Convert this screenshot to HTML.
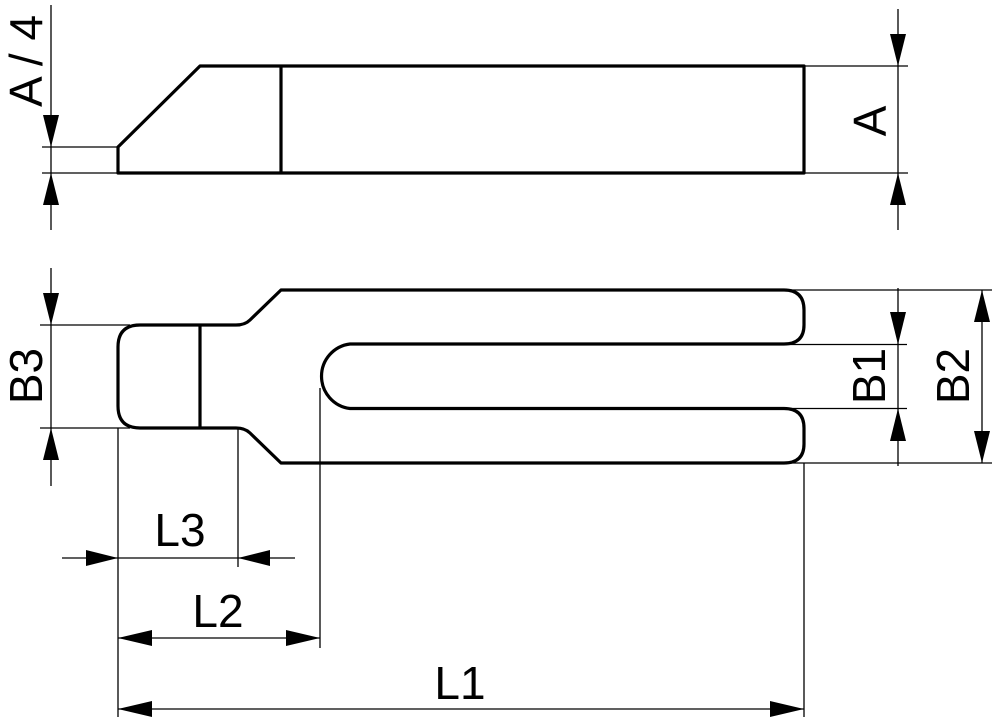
<!DOCTYPE html>
<html><head><meta charset="utf-8"><style>
html,body{margin:0;padding:0;background:#fff;}
svg{display:block;}
text{font-family:"Liberation Sans",sans-serif;font-size:46px;fill:#000;}
</style></head><body>
<svg width="1000" height="723" viewBox="0 0 1000 723" xmlns="http://www.w3.org/2000/svg">
<g fill="none" stroke="#000" stroke-width="3.2" stroke-linejoin="round">
<path d="M118,173 L118,147 L200,66 L804,66 L804,173 Z"/>
<line x1="281" y1="66" x2="281" y2="173"/>
<path d="M281,290 L784,290 Q804,290 804,310 L804,325 Q804,344 784,344 L350,344 A32.5,32.5 0 0 0 350,408.5 L784,408.5 Q804,408.5 804,428 L804,444 Q804,463 784,463 L281,463 L250,433 Q245,428 236,428 L140,428 Q118,428 118,406 L118,347 Q118,325 140,325 L236,325 Q245,325 250,320 Z"/>
<line x1="200" y1="325" x2="200" y2="428"/>
</g>
<g stroke="#000" stroke-width="1.3" fill="none">
<line x1="51" y1="5" x2="51" y2="230"/>
<line x1="42" y1="147" x2="118" y2="147"/>
<line x1="42" y1="173" x2="118" y2="173"/>
<line x1="898" y1="9" x2="898" y2="230"/>
<line x1="804" y1="66" x2="908" y2="66"/>
<line x1="804" y1="173" x2="908" y2="173"/>
<line x1="51" y1="268" x2="51" y2="486"/>
<line x1="40" y1="325" x2="130" y2="325"/>
<line x1="40" y1="428" x2="130" y2="428"/>
<line x1="898" y1="288" x2="898" y2="466"/>
<line x1="790" y1="290" x2="992" y2="290"/>
<line x1="780" y1="344.5" x2="907" y2="344.5"/>
<line x1="780" y1="408.5" x2="907" y2="408.5"/>
<line x1="790" y1="463" x2="992" y2="463"/>
<line x1="982" y1="290" x2="982" y2="463"/>
<line x1="118" y1="428" x2="118" y2="717"/>
<line x1="238" y1="428" x2="238" y2="567"/>
<line x1="320" y1="388" x2="320" y2="648"/>
<line x1="804" y1="463" x2="804" y2="717"/>
<line x1="62" y1="558" x2="295" y2="558"/>
<line x1="118" y1="638" x2="320" y2="638"/>
<line x1="118" y1="709" x2="804" y2="709"/>
</g>
<g fill="#000">
<path d="M51,147 L43,115 L59,115 Z"/>
<path d="M51,173 L43,205 L59,205 Z"/>
<path d="M898,66 L890,34 L906,34 Z"/>
<path d="M898,173 L890,205 L906,205 Z"/>
<path d="M51,325 L43,293 L59,293 Z"/>
<path d="M51,428 L43,460 L59,460 Z"/>
<path d="M898,344.5 L890,312 L906,312 Z"/>
<path d="M898,408.5 L890,441 L906,441 Z"/>
<path d="M982,290 L974,322 L990,322 Z"/>
<path d="M982,463 L974,431 L990,431 Z"/>
<path d="M118,558 L86,550 L86,566 Z"/>
<path d="M238,558 L270,550 L270,566 Z"/>
<path d="M118,638 L152,630 L152,646 Z"/>
<path d="M320,638 L286,630 L286,646 Z"/>
<path d="M118,709 L152,701 L152,717 Z"/>
<path d="M804,709 L770,701 L770,717 Z"/>
</g>
<text x="0" y="0" text-anchor="middle" transform="translate(42,61) rotate(-90)">A / 4</text>
<text x="0" y="0" text-anchor="middle" transform="translate(886,121) rotate(-90)">A</text>
<text x="0" y="0" text-anchor="middle" transform="translate(42,376) rotate(-90)">B3</text>
<text x="0" y="0" text-anchor="middle" transform="translate(885,376) rotate(-90)">B1</text>
<text x="0" y="0" text-anchor="middle" transform="translate(969,376) rotate(-90)">B2</text>
<text x="180" y="546" text-anchor="middle">L3</text>
<text x="218" y="627" text-anchor="middle">L2</text>
<text x="460" y="699" text-anchor="middle">L1</text>
</svg>
</body></html>
